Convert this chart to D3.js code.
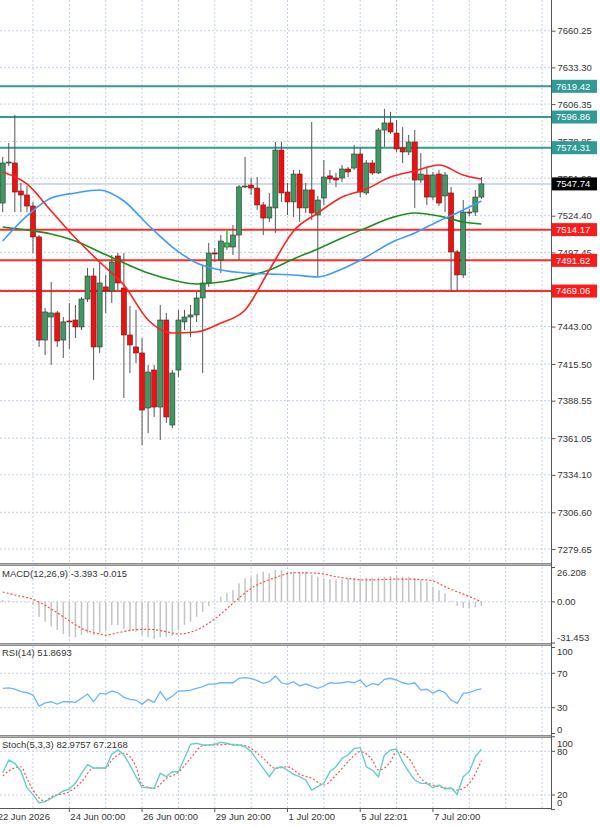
<!DOCTYPE html>
<html><head><meta charset="utf-8">
<script src="https://cdn.jsdelivr.net/npm/d3@7"></script>
<style>
body{margin:0;background:#fff}
svg{display:block}
text{font-family:"Liberation Sans",Arial,sans-serif;font-size:9.5px;fill:#333}
</style>
</head><body><svg id="c" width="600" height="827"></svg>
<script>
// ---------- DATA ----------
const opens  = [7533.7,7563.1,7563.1,7542.5,7539.6,7531.5,7508.8,7433.1,7450.0,7453.0,7433.1,7447.1,7447.8,7442.7,7463.2,7480.1,7428.0,7472.1,7469.1,7494.8,7471.3,7436.8,7428.0,7423.6,7383.2,7411.1,7383.9,7447.8,7370.7,7411.1,7446.4,7450.0,7451.5,7464.0,7475.0,7497.0,7491.9,7501.4,7501.4,7510.2,7545.5,7546.9,7544.7,7532.3,7522.7,7530.1,7572.6,7541.8,7534.5,7555.0,7530.1,7543.3,7524.9,7537.4,7553.6,7552.1,7552.1,7558.7,7559.4,7569.7,7541.1,7563.1,7555.8,7587.3,7592.5,7585.1,7574.1,7571.2,7578.5,7550.6,7554.3,7538.1,7555.0,7538.9,7541.1,7497.8,7480.9,7526.4,7527.1,7538.1];
const highs  = [7567.5,7577.8,7598.4,7548.4,7546.2,7534.5,7510.2,7456.6,7475.7,7454.4,7450.0,7460.3,7458.8,7464.7,7486.0,7486.0,7489.7,7480.9,7495.5,7497.0,7497.0,7458.1,7455.2,7434.6,7414.8,7414.8,7458.8,7453.0,7411.1,7455.2,7455.2,7458.8,7468.4,7487.5,7504.4,7500.7,7510.2,7513.9,7517.6,7546.9,7567.5,7552.1,7552.8,7534.5,7541.1,7578.5,7578.5,7548.4,7558.0,7558.0,7548.4,7593.2,7538.9,7565.3,7558.0,7555.8,7561.6,7560.2,7576.3,7574.1,7565.3,7565.3,7588.8,7602.8,7600.6,7594.7,7589.5,7583.7,7587.3,7570.4,7560.2,7556.5,7558.0,7556.5,7545.5,7499.2,7535.9,7529.3,7543.3,7552.8];
const lows   = [7527.1,7560.9,7527.1,7527.1,7527.1,7497.0,7428.0,7422.1,7414.8,7428.0,7419.9,7426.5,7434.6,7440.5,7461.0,7403.8,7423.6,7453.0,7460.3,7469.8,7390.5,7408.9,7416.2,7356.0,7364.8,7376.6,7359.7,7372.2,7368.5,7406.0,7440.5,7435.3,7446.4,7408.9,7472.1,7490.4,7482.3,7499.2,7495.5,7491.9,7544.7,7539.6,7528.6,7510.2,7519.8,7511.7,7534.5,7524.9,7523.5,7519.8,7526.4,7521.2,7479.4,7532.3,7548.4,7545.5,7549.2,7552.8,7558.0,7538.1,7539.6,7554.3,7555.0,7574.9,7584.4,7571.2,7563.1,7569.0,7530.1,7548.4,7532.3,7535.9,7531.5,7527.1,7468.4,7469.1,7478.7,7524.2,7524.2,7536.7];
const closes = [7563.1,7563.8,7541.8,7539.6,7531.5,7508.8,7433.1,7453.7,7453.0,7432.4,7446.4,7446.4,7442.7,7463.2,7480.1,7428.0,7475.0,7469.1,7490.4,7475.0,7436.8,7429.5,7423.6,7381.7,7409.6,7383.9,7447.8,7376.6,7408.9,7447.8,7450.0,7451.5,7464.0,7475.0,7497.0,7496.3,7505.8,7504.4,7510.2,7545.5,7546.2,7544.7,7532.3,7522.7,7530.8,7572.6,7541.1,7534.5,7555.0,7530.1,7543.3,7526.4,7535.9,7552.8,7551.4,7550.6,7558.7,7556.5,7569.7,7541.8,7563.1,7555.8,7587.3,7592.5,7585.9,7573.4,7571.2,7578.5,7550.6,7555.0,7538.1,7554.3,7533.7,7554.3,7497.8,7480.9,7527.1,7527.1,7538.1,7547.74];

// moving averages, sampled at bar indices
const maIdx   = [0,4,8,12,16,20,24,28,32,36,40,44,48,52,56,60,64,68,72,76,79];
const maRed   = [7556.5,7547.7,7527.9,7508.0,7490.4,7473.5,7447.8,7438.3,7439.0,7445.6,7455.2,7484.5,7513.2,7526.4,7538.1,7544.0,7552.8,7557.2,7561.6,7554.3,7551.4];
const maBlue  = [7505.8,7524.2,7537.4,7541.1,7543.3,7535.2,7517.6,7501.4,7489.7,7484.5,7482.3,7481.6,7480.9,7479.4,7485.3,7494.1,7504.4,7511.7,7520.5,7528.6,7535.2];
const maGreen = [7516.1,7513.9,7511.0,7505.8,7497.8,7489.7,7482.3,7477.2,7474.3,7475.7,7479.4,7484.5,7492.6,7500.0,7508.0,7515.4,7522.7,7526.4,7524.2,7519.8,7518.3];

// MACD histogram (one per bar) and signal line
const macdHist = [1.5,1.0,0.5,0.3,-0.5,-2.4,-11.4,-15.2,-19.0,-21.5,-24.6,-26.1,-27.1,-25.4,-24.1,-25.4,-24.1,-22.1,-17.7,-17.7,-20.3,-21.5,-22.8,-25.4,-27.1,-28.4,-27.1,-26.7,-26.1,-21.5,-17.7,-15.2,-11.4,-7.6,-3.2,0.2,3.9,6.5,9.0,14.1,18.0,19.2,21.2,23.0,21.8,24.3,24.3,23.0,23.0,23.0,23.0,20.5,19.2,18.0,17.2,17.2,17.2,18.0,18.0,18.0,18.0,18.0,18.6,19.2,19.7,19.7,19.2,19.2,18.0,16.7,15.4,11.5,9.0,6.5,0.8,-3.0,-4.6,-4.8,-4.2,-3.393];
const macdSigIdx = [0,2,5,8,11,13,16,17,19,22,24,27,29,32,35,38,41,45,48,52,55,60,66,70,71,73,77,79];
const macdSig    = [7.5,5.2,1.9,-5.5,-14.5,-20.3,-24.6,-25.4,-23.6,-21.3,-21.0,-22.8,-24.6,-21.5,-13.0,-1.1,10.3,18.5,22.2,21.8,19.2,16.7,17.4,16.7,15.9,11.5,4.0,-0.015];

// RSI(14), one per bar
const rsi = [52.5,53.0,51.5,48.6,47.4,44.7,31.9,35.5,36.9,34.2,36.9,36.9,36.2,40.9,45.9,36.9,46.7,45.9,49.4,47.4,42.0,39.7,38.9,33.9,39.7,36.2,48.6,38.9,43.5,49.4,49.7,50.5,52.5,54.4,57.5,57.5,59.0,59.0,59.0,64.2,64.9,64.2,61.4,58.3,60.2,66.9,59.0,57.2,60.2,55.2,57.5,55.2,52.5,55.2,59.0,58.3,59.0,60.2,59.0,62.2,54.4,58.3,56.4,63.0,64.2,62.2,59.0,57.5,59.0,50.5,51.4,46.7,50.5,47.4,38.9,35.0,46.7,47.4,50.5,51.8693];

// Stochastic(5,3,3)
const stochK = [50.6,68.0,63.5,53.0,30.0,20.5,9.0,10.8,15.4,20.0,25.5,28.2,36.0,49.8,61.6,57.1,57.1,57.1,76.0,81.8,74.9,61.2,45.1,30.5,30.0,29.2,49.8,45.1,52.0,52.0,70.4,89.6,91.0,88.7,88.7,89.6,92.4,91.0,88.7,88.7,86.3,79.5,68.0,56.6,45.1,56.6,58.8,54.3,48.4,45.1,40.6,26.8,31.4,36.0,52.0,58.8,70.4,74.9,84.1,85.0,58.8,54.3,45.1,74.9,81.8,83.2,65.7,52.0,40.6,36.0,36.0,30.0,33.7,28.2,30.0,20.9,45.1,52.0,72.6,82.9757];
const stochDIdx = [0,1,3,4,5,7,8,11,13,15,17,18,20,22,23,25,27,29,31,33,35,38,40,43,45,47,49,51,53,55,57,59,61,62,64,65,67,69,71,73,75,77,79];
const stochD    = [46.0,52.9,58.8,42.9,26.8,11.7,17.6,24.5,38.2,57.1,57.1,68.0,77.3,58.8,33.7,29.2,42.9,51.2,70.4,87.7,88.7,89.6,87.7,70.4,56.6,58.8,48.4,42.9,33.7,47.4,65.7,79.5,68.0,54.3,65.7,79.5,70.4,42.9,33.7,30.0,26.8,36.0,67.2168];

// axes / annotations
const priceTicks = [7660.25,7633.30,7606.35,7578.85,7551.90,7524.40,7497.45,7469.95,7443.00,7415.50,7388.55,7361.05,7334.10,7306.60,7279.65];
const macdTicks = [26.208,0,-31.453];
const macdTickLabels = ["26.208","0.00","-31.453"];
const rsiTicks = [100,70,30,0];
const stochTicks = [100,80,20,0];
const timeIdx = [-1,11,23,35,47,59,71];
const timeLabels = ["22 Jun 2026","24 Jun 00:00","26 Jun 00:00","29 Jun 20:00","1 Jul 20:00","5 Jul 22:01","7 Jul 20:00"];
const levelsTeal = [7619.42,7596.86,7574.31];
const levelsRed = [7514.17,7491.62,7469.06];
const lastPrice = 7547.74;
const arrowIdx = 37, arrowTop = 7513.9, arrowBot = 7501.6;

// ---------- CHART ----------
const svg = d3.select("#c");
const R = 551;
const P = {main:[0,563], macd:[567,643], rsi:[646,735], st:[738,808]};
const n = closes.length;
const x = d3.scaleLinear().domain([0,79]).range([2.7,481.4]);
const yP = d3.scaleLinear().domain([7279.65,7660.25]).range([549,30.7]);
const yM = d3.scaleLinear().domain([-31.453,26.208]).range([643,567.5]);
const yR = d3.scaleLinear().domain([30,70]).range([707.7,673.3]);
const yS = d3.scaleLinear().domain([20,80]).range([795,751.3]);

const defs = svg.append("defs");
Object.entries(P).forEach(([k,[a,b]])=>{
  defs.append("clipPath").attr("id","cl-"+k).append("rect").attr("x",0).attr("y",a).attr("width",R).attr("height",b-a);
});

const gridCol = "#c3d0e6";
const gridIdx = d3.range(-1, 90, 6);
// vertical grid in all panels
Object.entries(P).forEach(([k,[a,b]])=>{
  svg.append("g").selectAll("line").data(gridIdx).join("line")
    .attr("x1",d=>x(d)).attr("x2",d=>x(d)).attr("y1",a).attr("y2",b)
    .attr("stroke",gridCol).attr("stroke-dasharray","2,2");
});
// horizontal grid main
svg.append("g").selectAll("line").data(priceTicks).join("line")
  .attr("x1",0).attr("x2",R).attr("y1",d=>yP(d)).attr("y2",d=>yP(d))
  .attr("stroke",gridCol).attr("stroke-dasharray","2,2");
// indicator grid lines
svg.append("line").attr("x1",0).attr("x2",R).attr("y1",yM(0)).attr("y2",yM(0)).attr("stroke",gridCol).attr("stroke-dasharray","2,2");
[70,30].forEach(v=>svg.append("line").attr("x1",0).attr("x2",R).attr("y1",yR(v)).attr("y2",yR(v)).attr("stroke",gridCol).attr("stroke-dasharray","2,2"));
[80,20].forEach(v=>svg.append("line").attr("x1",0).attr("x2",R).attr("y1",yS(v)).attr("y2",yS(v)).attr("stroke",gridCol).attr("stroke-dasharray","2,2"));

// main panel
const gm = svg.append("g").attr("clip-path","url(#cl-main)");
// current price line
gm.append("line").attr("x1",0).attr("x2",R).attr("y1",yP(lastPrice)).attr("y2",yP(lastPrice)).attr("stroke","#d2dbea").attr("stroke-width",2);
// levels
gm.selectAll(".lt").data(levelsTeal).join("line").attr("x1",0).attr("x2",R)
  .attr("y1",d=>yP(d)).attr("y2",d=>yP(d)).attr("stroke","#2f9a96").attr("stroke-width",2);
gm.selectAll(".lr").data(levelsRed).join("line").attr("x1",0).attr("x2",R)
  .attr("y1",d=>yP(d)).attr("y2",d=>yP(d)).attr("stroke","#ff2b2b").attr("stroke-width",2);

// candles
const idx = d3.range(n);
gm.append("g").selectAll("line").data(idx).join("line")
  .attr("x1",i=>x(i)).attr("x2",i=>x(i)).attr("y1",i=>yP(highs[i])).attr("y2",i=>yP(lows[i]))
  .attr("stroke","#555").attr("stroke-width",1);
gm.append("g").selectAll("rect").data(idx).join("rect")
  .attr("x",i=>x(i)-2.5).attr("width",5)
  .attr("y",i=>yP(Math.max(opens[i],closes[i])))
  .attr("height",i=>Math.max(1,Math.abs(yP(opens[i])-yP(closes[i]))))
  .attr("fill",i=>closes[i]>opens[i]?"#3c9a62":(closes[i]<opens[i]?"#ee1111":"#333"))
  .attr("stroke",i=>closes[i]>=opens[i]?"#333":"#7a1010").attr("stroke-width",0.6);

// arrow marker
gm.append("line").attr("x1",x(arrowIdx)).attr("x2",x(arrowIdx)).attr("y1",yP(arrowTop)).attr("y2",yP(arrowBot)).attr("stroke","#33dd33").attr("stroke-width",1);
gm.append("path").attr("d",`M${x(arrowIdx)-2},${yP(arrowBot)-3}L${x(arrowIdx)},${yP(arrowBot)}L${x(arrowIdx)+2},${yP(arrowBot)-3}`).attr("fill","none").attr("stroke","#33dd33");

// MAs
const maLine = arr => d3.line().x((d,k)=>x(maIdx[k])).y(d=>yP(d)).curve(d3.curveMonotoneX)(arr);
gm.append("path").attr("d",maLine(maGreen)).attr("fill","none").attr("stroke","#1e8c1e").attr("stroke-width",1.6);
gm.append("path").attr("d",maLine(maBlue)).attr("fill","none").attr("stroke","#3d9bff").attr("stroke-width",1.6);
gm.append("path").attr("d",maLine(maRed)).attr("fill","none").attr("stroke","#ff2020").attr("stroke-width",1.6);

// MACD
const gmc = svg.append("g").attr("clip-path","url(#cl-macd)");
gmc.selectAll("rect").data(idx).join("rect")
  .attr("x",i=>x(i)-0.75).attr("width",1.5)
  .attr("y",i=>Math.min(yM(0),yM(macdHist[i])))
  .attr("height",i=>Math.abs(yM(macdHist[i])-yM(0)))
  .attr("fill","#c4c4c4");
gmc.append("path").attr("d",d3.line().x((d,k)=>x(macdSigIdx[k])).y(d=>yM(d)).curve(d3.curveMonotoneX)(macdSig))
  .attr("fill","none").attr("stroke","#ff4a4a").attr("stroke-width",1.2).attr("stroke-dasharray","2,2");

// RSI
const gr = svg.append("g").attr("clip-path","url(#cl-rsi)");
gr.append("path").attr("d",d3.line().x((d,i)=>x(i)).y(d=>yR(d))(rsi))
  .attr("fill","none").attr("stroke","#6ab4ff").attr("stroke-width",1.3);

// Stoch
const gs = svg.append("g").attr("clip-path","url(#cl-st)");
gs.append("path").attr("d",d3.line().x((d,k)=>x(stochDIdx[k])).y(d=>yS(d)).curve(d3.curveMonotoneX)(stochD))
  .attr("fill","none").attr("stroke","#ff5050").attr("stroke-width",1.2).attr("stroke-dasharray","2,2");
gs.append("path").attr("d",d3.line().x((d,i)=>x(i)).y(d=>yS(d))(stochK))
  .attr("fill","none").attr("stroke","#62d0c8").attr("stroke-width",1.4);

// separators & frame
[[563,566],[643,646],[735,738]].forEach(([a,b])=>{
  svg.append("rect").attr("x",0).attr("y",a).attr("width",R+1).attr("height",b-a).attr("fill","#8c8c8c");
  svg.append("line").attr("x1",0).attr("x2",R+1).attr("y1",a+1.5).attr("y2",a+1.5).attr("stroke","#b8b8b8").attr("stroke-width",1);
});
svg.append("line").attr("x1",0).attr("x2",R+1).attr("y1",808.5).attr("y2",808.5).attr("stroke","#555");
svg.append("line").attr("x1",R+0.5).attr("x2",R+0.5).attr("y1",0).attr("y2",809).attr("stroke","#555");

// price axis
const ax = svg.append("g").attr("transform",`translate(${R+0.5},0)`)
  .call(d3.axisRight(yP).tickValues(priceTicks).tickFormat(d3.format(".2f")).tickSize(4).tickPadding(2));
ax.select(".domain").remove();
ax.selectAll("text").attr("font-family",null).attr("font-size",null).style("font-size","9.5px").attr("fill","#333");
ax.selectAll("line").attr("stroke","#555");
ax.attr("font-family",null).attr("font-size",null);

// level labels
const lab = (v,bg)=>{
  const g = svg.append("g").attr("transform",`translate(${R+1},${yP(v)})`);
  g.append("rect").attr("x",0).attr("y",-6.5).attr("width",45).attr("height",13).attr("fill",bg);
  g.append("text").attr("x",4).attr("y",0).attr("dy","0.35em").style("fill","#fff").text(v.toFixed(2));
};
levelsTeal.forEach(v=>lab(v,"#2f9a96"));
levelsRed.forEach(v=>lab(v,"#ff1a1a"));
lab(lastPrice,"#000");

// indicator axis labels
function indAxis(ticks,labels,sc,[a,b]){
  const g = svg.append("g");
  g.selectAll("line").data(ticks).join("line").attr("x1",R).attr("x2",R+4)
    .attr("y1",d=>sc(d)).attr("y2",d=>sc(d)).attr("stroke","#555");
  g.selectAll("text").data(ticks).join("text").attr("x",R+6)
    .attr("y",d=>Math.max(a+6,Math.min(b-5,sc(d)))).attr("dy","0.35em")
    .text((d,i)=>labels[i]);
}
indAxis(macdTicks,macdTickLabels,yM,P.macd);
indAxis(rsiTicks,rsiTicks.map(String),yR,P.rsi);
indAxis(stochTicks,stochTicks.map(String),yS,P.st);

// indicator titles
svg.append("text").attr("x",2).attr("y",574).attr("dy","0.35em").text(`MACD(12,26,9) ${macdHist[n-1].toFixed(3)} ${macdSig[macdSig.length-1].toFixed(3)}`);
svg.append("text").attr("x",2).attr("y",653).attr("dy","0.35em").text(`RSI(14) ${rsi[n-1].toFixed(4)}`);
svg.append("text").attr("x",2).attr("y",745).attr("dy","0.35em").text(`Stoch(5,3,3) ${stochK[n-1].toFixed(4)} ${stochD[stochD.length-1].toFixed(4)}`);

// time axis
const gt = svg.append("g");
gt.selectAll("line").data(timeIdx).join("line").attr("x1",d=>x(d)).attr("x2",d=>x(d)).attr("y1",809).attr("y2",812).attr("stroke","#555");
gt.selectAll("text").data(timeIdx).join("text").attr("x",d=>x(d)+1).attr("y",817).attr("dy","0.35em").text((d,i)=>timeLabels[i]);
</script>
</body></html>
